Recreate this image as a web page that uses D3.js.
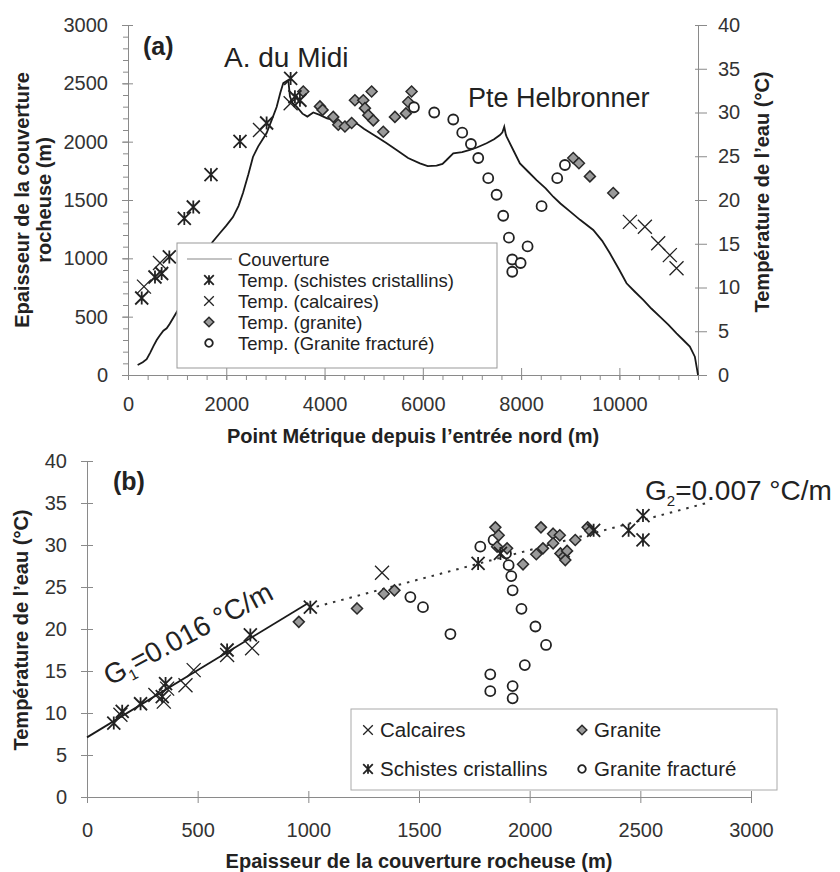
<!DOCTYPE html>
<html>
<head>
<meta charset="utf-8">
<script src="https://cdn.jsdelivr.net/npm/d3@7"></script>
<style>
  body { margin: 0; background: #fff; }
  svg text { font-family: "Liberation Sans", Arial, sans-serif; fill: #333; }
  .domain, .tick line { stroke: #8a8a8a; }
</style>
</head>
<body>
<svg id="chart"></svg>
<script>
// ---- panel (a): couverture (m) along the tunnel ----
const couvX = [196,300,380,450,520,584,650,720,787,850,956,1050,1194,1300,1465,1600,1720,1872,2000,2136,2250,2340,2450,2543,2650,2821,2920,3025,3100,3160,3262,3296,3350,3432,3550,3650,3770,3900,4050,4177,4313,4450,4652,4800,5059,5250,5466,5700,5941,6100,6280,6400,6483,6619,6800,6958,7100,7297,7450,7569,7620,7657,7690,7705,7850,7976,8150,8315,8500,8654,8800,9000,9200,9468,9650,9807,10000,10146,10300,10485,10650,10824,11000,11163,11300,11434,11536,11583,11600];
const couvY = [86,110,135,190,250,300,340,380,400,440,514,580,729,800,960,1050,1140,1217,1280,1354,1450,1560,1720,1869,1960,2074,2180,2297,2420,2503,2529,2386,2330,2300,2240,2215,2250,2230,2200,2186,2128,2140,2157,2110,2043,1990,1929,1860,1814,1790,1794,1810,1843,1900,1910,1929,1950,1986,2020,2057,2080,2128,2060,2043,1920,1814,1740,1671,1600,1528,1470,1400,1330,1243,1150,1043,900,786,720,643,570,500,430,357,300,243,157,43,0];

// temperatures (°C) vs point métrique (m)
const schistesA = [[279,8.8],[549,11.2],[685,11.6],[841,13.5],[1146,17.9],[1329,19.2],[1689,22.9],[2279,26.7],[2821,28.8],[3310,33.9],[3397,31.8],[3499,31.4]];
const calcairesA = [[325,10.1],[651,12.8],[2686,28.0],[3310,31.05],[10214,17.5],[10519,16.95],[10790,15.05],[11027,13.7],[11163,12.2]];
const graniteA = [[3567,32.4],[3906,30.7],[3960,30.3],[4177,29.5],[4279,28.6],[4415,28.4],[4551,28.8],[4618,31.4],[4788,31.4],[4822,30.5],[4890,29.7],[4958,32.4],[4992,29.1],[5195,27.8],[5432,29.5],[5656,29.9],[5703,31.2],[5771,32.4],[9061,24.8],[9177,24.2],[9400,22.7],[9875,20.8]];
const fractureA = [[5819,30.6],[6232,30.0],[6619,29.2],[6802,27.7],[6979,26.4],[7128,24.8],[7331,22.5],[7501,20.6],[7636,18.2],[7752,15.7],[7820,13.2],[7990,12.8],[7820,11.8],[8132,14.7],[8417,19.3],[8735,22.5],[8892,24.0]];

// ---- panel (b): temperature vs couverture ----
const schistesB = [[121,8.8],[159,10.2],[242,11.1],[340,11.95],[355,13.5],[633,17.5],[738,19.3],[1009,22.6],[1767,27.8],[1868,29.0],[2289,31.75],[2447,31.75],[2512,33.5],[2512,30.6]];
const calcairesB = [[151,9.8],[309,12.15],[347,11.35],[362,12.9],[445,13.3],[482,15.1],[633,16.9],[746,17.7],[1333,26.7]];
const graniteB = [[957,20.85],[1220,22.45],[1341,24.2],[1389,24.6],[1845,32.1],[1860,31.15],[1853,29.8],[1898,29.6],[1970,27.7],[2030,28.9],[2060,29.6],[2051,32.1],[2106,31.35],[2136,31.15],[2106,30.2],[2139,29.0],[2154,28.6],[2169,29.3],[2161,28.2],[2206,30.6],[2262,32.1],[2274,31.7]];
const fractureB = [[1461,23.8],[1518,22.6],[1642,19.4],[1777,29.8],[1837,30.6],[1893,29.0],[1905,27.6],[1917,26.3],[1923,24.6],[1963,22.4],[2026,20.3],[2074,18.1],[1978,15.7],[1822,14.6],[1822,12.6],[1923,13.2],[1923,11.75]];
const gradient1 = [[0,7.1],[1000,23.1]];
const gradient2 = [[1000,22.4],[2800,35.0]];

const legendA = ["Couverture","Temp. (schistes cristallins)","Temp. (calcaires)","Temp. (granite)","Temp. (Granite fracturé)"];

const svg = d3.select("#chart").attr("width", 840).attr("height", 872);
const fmt = d3.format("d");

// marker shapes
const shapes = {
  asterisk: s => `M${-s},${-s}L${s},${s}M${-s},${s}L${s},${-s}M0,${-s}L0,${s}`,
  cross: s => `M${-s},${-s}L${s},${s}M${-s},${s}L${s},${-s}`,
  diamond: s => `M0,${-s}L${s},0L0,${s}L${-s},0Z`
};
function drawMarks(g, data, type, x, y, s) {
  const sel = g.append("g").selectAll("path").data(data).join("path")
    .attr("transform", d => `translate(${x(d[0])},${y(d[1])})`);
  if (type === "circle") {
    sel.attr("d", d3.symbol(d3.symbolCircle, Math.PI * s * s)())
      .attr("fill", "#fff").attr("stroke", "#222").attr("stroke-width", 1.8);
  } else if (type === "diamond") {
    sel.attr("d", shapes.diamond(s)).attr("fill", "#9a9a9a").attr("stroke", "#2a2a2a").attr("stroke-width", 1.5);
  } else {
    sel.attr("d", shapes[type](s)).attr("fill", "none").attr("stroke", "#222")
      .attr("stroke-width", type === "asterisk" ? 1.8 : 1.3);
  }
}
function marker(g, type, cx, cy, s) { drawMarks(g, [[0,0]], type, () => cx, () => cy, s); }

// ================= panel (a) =================
const xA = d3.scaleLinear().domain([0,11600]).range([128,698]);
const yA = d3.scaleLinear().domain([0,3000]).range([375,25]);
const tA = d3.scaleLinear().domain([0,40]).range([375,25]);
const ga = svg.append("g");

// minor ticks
ga.append("g").attr("transform","translate(128,0)")
  .call(d3.axisLeft(yA).tickValues(d3.range(0,3001,100)).tickSize(5).tickFormat(""));
ga.append("g").attr("transform","translate(0,375)")
  .call(d3.axisBottom(xA).tickValues(d3.range(0,11601,400)).tickSize(5).tickFormat(""));

const axLeftA = ga.append("g").attr("transform","translate(128,0)")
  .call(d3.axisLeft(yA).tickValues(d3.range(0,3001,500)).tickFormat(fmt).tickSize(6).tickPadding(14).tickSizeOuter(0));
axLeftA.selectAll(".tick line").attr("x1", 5);
const axRightA = ga.append("g").attr("transform","translate(698,0)")
  .call(d3.axisRight(tA).tickValues(d3.range(0,41,5)).tickFormat(fmt).tickSize(9).tickPadding(11).tickSizeOuter(0));
axRightA.selectAll(".tick line").attr("x1", -3);
const axBotA = ga.append("g").attr("transform","translate(0,375)")
  .call(d3.axisBottom(xA).tickValues(d3.range(0,10001,2000)).tickFormat(fmt).tickSize(5).tickPadding(17).tickSizeOuter(0));
axBotA.selectAll(".tick line").attr("y1", -7);
ga.selectAll(".tick text").attr("font-size", 20).attr("font-family", "Liberation Sans, Arial");

// couverture line
ga.append("path")
  .datum(couvX.map((d, i) => [d, couvY[i]]))
  .attr("fill","none").attr("stroke","#1a1a1a").attr("stroke-width",1.8)
  .attr("d", d3.line().x(d => xA(d[0])).y(d => yA(d[1])));

drawMarks(ga, graniteA, "diamond", xA, tA, 5.5);
drawMarks(ga, fractureA, "circle", xA, tA, 5);
drawMarks(ga, calcairesA, "cross", xA, tA, 7);
drawMarks(ga, schistesA, "asterisk", xA, tA, 6.5);

// labels panel (a)
ga.append("text").attr("x",143).attr("y",55).attr("font-size",25).attr("font-weight","bold").style("fill","#222").text("(a)");
ga.append("text").attr("x",224).attr("y",67).attr("font-size",28).style("fill","#222").text("A. du Midi");
ga.append("text").attr("x",468).attr("y",107).attr("font-size",27).style("fill","#222").text("Pte Helbronner");

const yTitleA = ga.append("text").attr("transform","translate(29,200) rotate(-90)")
  .attr("text-anchor","middle").attr("font-size",20).attr("font-weight","bold").style("fill","#222");
yTitleA.append("tspan").attr("x",0).attr("dy",0).text("Epaisseur de la couverture");
yTitleA.append("tspan").attr("x",0).attr("dy",22).text("rocheuse (m)");
ga.append("text").attr("transform","translate(769,192) rotate(-90)")
  .attr("text-anchor","middle").attr("font-size",20).attr("font-weight","bold").style("fill","#222")
  .text("Température de l’eau (°C)");
ga.append("text").attr("x",413).attr("y",443).attr("text-anchor","middle")
  .attr("font-size",20).attr("font-weight","bold").style("fill","#222")
  .text("Point Métrique depuis l’entrée nord (m)");

// legend (a)
const la = ga.append("g");
la.append("rect").attr("x",177).attr("y",243).attr("width",320).attr("height",125)
  .attr("fill","#fff").attr("stroke","#999").attr("stroke-width",1);
const legTypes = ["line","asterisk","cross","diamond","circle"];
legendA.forEach((t, i) => {
  const cy = 259 + i * 21;
  if (legTypes[i] === "line") {
    la.append("line").attr("x1",187).attr("x2",232).attr("y1",cy).attr("y2",cy).attr("stroke","#888").attr("stroke-width",1.2);
  } else {
    marker(la, legTypes[i], 209, cy, legTypes[i] === "circle" ? 3.8 : 4.8);
  }
  la.append("text").attr("x",238).attr("y",cy + 6.5).attr("font-size",18.5).attr("textLength", null).style("fill","#222").text(t);
});

// ================= panel (b) =================
const xB = d3.scaleLinear().domain([0,3000]).range([87,751]);
const yB = d3.scaleLinear().domain([0,40]).range([797,461]);
const gb = svg.append("g");

const axLeftB = gb.append("g").attr("transform","translate(87,0)")
  .call(d3.axisLeft(yB).tickValues(d3.range(0,41,5)).tickFormat(fmt).tickSize(6).tickPadding(14).tickSizeOuter(0));
axLeftB.selectAll(".tick line").attr("x1", 6);
const axBotB = gb.append("g").attr("transform","translate(0,797)")
  .call(d3.axisBottom(xB).tickValues(d3.range(0,3001,500)).tickFormat(fmt).tickSize(6).tickPadding(20).tickSizeOuter(0));
axBotB.selectAll(".tick line").attr("y1", -6);
gb.selectAll(".tick text").attr("font-size", 20).attr("font-family", "Liberation Sans, Arial");

const lineB = d3.line().x(d => xB(d[0])).y(d => yB(d[1]));
gb.append("path").datum(gradient1).attr("fill","none").attr("stroke","#1a1a1a").attr("stroke-width",1.8).attr("d", lineB);
gb.append("path").datum(gradient2).attr("fill","none").attr("stroke","#333").attr("stroke-width",2)
  .attr("stroke-dasharray","2.5,6").attr("d", lineB);

drawMarks(gb, fractureB, "circle", xB, yB, 5);
drawMarks(gb, graniteB, "diamond", xB, yB, 5.5);
drawMarks(gb, calcairesB, "cross", xB, yB, 7);
drawMarks(gb, schistesB, "asterisk", xB, yB, 6.5);

gb.append("text").attr("x",113).attr("y",490).attr("font-size",25).attr("font-weight","bold").style("fill","#222").text("(b)");

const g1 = gb.append("text").attr("transform","translate(110,686) rotate(-28)").attr("font-size",28).style("fill","#222");
g1.append("tspan").text("G");
g1.append("tspan").attr("font-size",15).attr("dy",6).text("1");
g1.append("tspan").attr("dy",-6).text("=0.016 °C/m");
const g2 = gb.append("text").attr("x",645).attr("y",500).attr("font-size",28).style("fill","#222");
g2.append("tspan").text("G");
g2.append("tspan").attr("font-size",15).attr("dy",6).text("2");
g2.append("tspan").attr("dy",-6).text("=0.007 °C/m");

gb.append("text").attr("transform","translate(28,630) rotate(-90)")
  .attr("text-anchor","middle").attr("font-size",20).attr("font-weight","bold").style("fill","#222")
  .text("Température de l’eau (°C)");
gb.append("text").attr("x",419).attr("y",868).attr("text-anchor","middle")
  .attr("font-size",20).attr("font-weight","bold").style("fill","#222")
  .text("Epaisseur de la couverture rocheuse (m)");

// legend (b)
const lb = gb.append("g");
lb.append("rect").attr("x",351).attr("y",709).attr("width",426).attr("height",81)
  .attr("fill","#fff").attr("stroke","#aaa").attr("stroke-width",1);
const legendB = [["Calcaires","cross",368,730],["Schistes cristallins","asterisk",368,769],["Granite","diamond",582,730],["Granite fracturé","circle",582,769]];
legendB.forEach(d => {
  marker(lb, d[1], d[2], d[3], d[1] === "circle" ? 3.8 : 4.8);
  lb.append("text").attr("x", d[2] + 12).attr("y", d[3] + 7).attr("font-size",20.5).style("fill","#222").text(d[0]);
});
</script>
</body>
</html>
